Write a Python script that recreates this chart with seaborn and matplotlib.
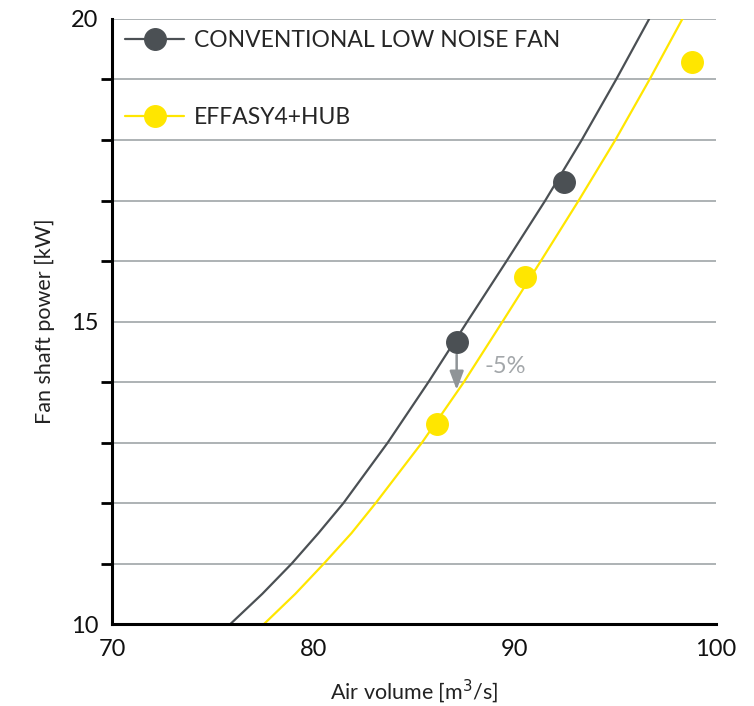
"""
Fan shaft power vs air volume.
"""
import matplotlib
matplotlib.use("Agg")
import matplotlib.pyplot as plt
from matplotlib.lines import Line2D
from matplotlib.ticker import MultipleLocator
import seaborn as sns
import pandas as pd

sns.set_theme(style="white")
plt.rcParams["font.family"] = ["Lato", "DejaVu Sans"]

GRAY = "#4b5054"
YELLOW = "#ffe600"
GRID = "#a7acaf"
ARROW = "#8f9497"

# curves (power kW -> air volume m3/s)
curve_power = [10, 10.5, 11, 11.5, 12, 13, 14, 15, 16, 17, 18, 19, 20]
conv_curve_flow = [75.88, 77.47, 78.93, 80.25, 81.50, 83.70, 85.72, 87.65,
                   89.60, 91.52, 93.33, 95.04, 96.68]
effasy_curve_flow = [77.55, 79.11, 80.53, 81.89, 83.10, 85.40, 87.48, 89.40,
                     91.30, 93.18, 95.00, 96.70, 98.33]

# measured points
conv_flow = [87.12, 92.47]
conv_power = [14.66, 17.30]
effasy_flow = [86.16, 90.50, 98.82]
effasy_power = [13.30, 15.74, 19.29]

labels = ["CONVENTIONAL LOW NOISE FAN", "EFFASY4+HUB"]

curves = pd.DataFrame({
    "flow": conv_curve_flow + effasy_curve_flow,
    "power": curve_power + curve_power,
    "fan": [labels[0]] * len(curve_power) + [labels[1]] * len(curve_power),
})

fig, ax = plt.subplots(figsize=(7.54, 7.06), dpi=100)
fig.subplots_adjust(left=0.1485, right=0.9496, bottom=0.1161, top=0.9731)

ax.yaxis.set_minor_locator(MultipleLocator(1))
ax.grid(True, which="both", axis="y", color=GRID, linewidth=1.3)
ax.set_axisbelow(True)

sns.lineplot(data=curves, x="flow", y="power", hue="fan", sort=False,
             palette=[GRAY, YELLOW], linewidth=1.6, legend=False, ax=ax)
ax.plot(conv_flow, conv_power, "o", color=GRAY, markersize=15.5, zorder=4)
ax.plot(effasy_flow, effasy_power, "o", color=YELLOW, markersize=15.5, zorder=4)

# -5% arrow
ax.annotate("", xy=(conv_flow[0], 13.87), xytext=(conv_flow[0], conv_power[0]),
            arrowprops=dict(arrowstyle="-|>,head_width=0.3,head_length=0.8",
                            mutation_scale=14, color=ARROW, lw=1.8,
                            shrinkA=9, shrinkB=0),
            zorder=3)
ax.text(88.5, 14.25, "-5%", color="#a3a7aa", fontsize=17, va="center")

ax.set_xlim(70, 100)
ax.set_ylim(10, 20)
ax.set_xticks([70, 80, 90, 100])
ax.set_yticks([10, 15, 20])
ax.tick_params(axis="both", which="both", direction="out", color="black",
               width=2, labelsize=17, labelcolor="#111111")
ax.tick_params(axis="both", which="major", length=8)
ax.tick_params(axis="y", which="minor", length=8, left=True)
ax.tick_params(axis="x", pad=3)
ax.tick_params(axis="y", pad=2)

for side in ["top", "right"]:
    ax.spines[side].set_visible(False)
for side in ["left", "bottom"]:
    ax.spines[side].set_color("black")
    ax.spines[side].set_linewidth(2.2)

ax.set_xlabel("Air volume [m$^3$/s]", fontsize=15.5, labelpad=12, color="#222222")
ax.set_ylabel("Fan shaft power [kW]", fontsize=15.5, labelpad=11, color="#222222")

handles = [
    Line2D([], [], color=GRAY, marker="o", markersize=15.5, linewidth=1.6),
    Line2D([], [], color=YELLOW, marker="o", markersize=15.5, linewidth=1.6),
]
ax.legend(handles, labels, loc="upper left", bbox_to_anchor=(-0.009, 1.012),
          frameon=False, fontsize=16.5, labelspacing=2.45, handlelength=2.6,
          handletextpad=0.42, borderaxespad=0.4)

fig.savefig("out.png", dpi=100, facecolor="white")
plt.close(fig)
